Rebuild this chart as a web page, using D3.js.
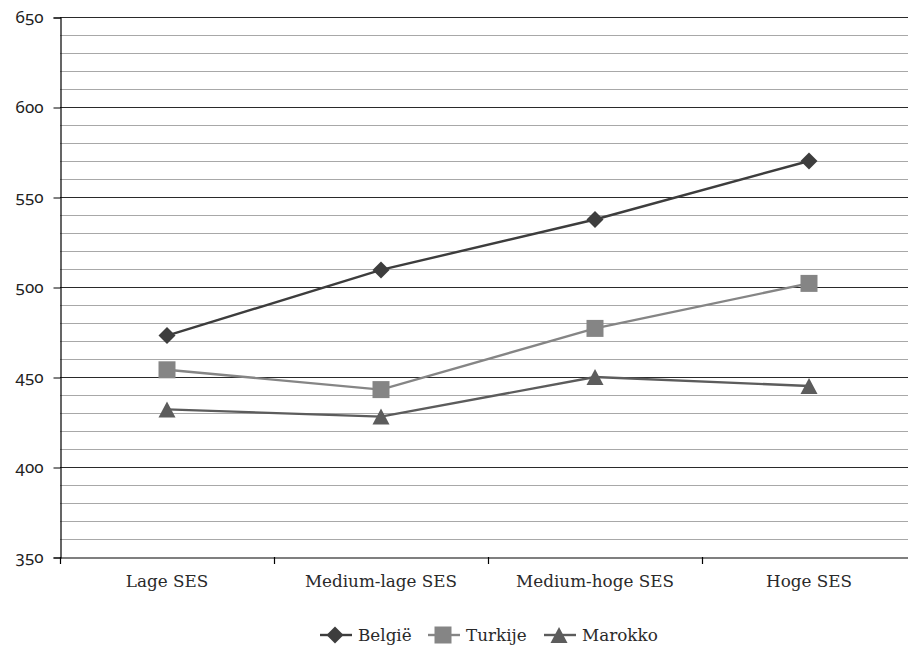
<!DOCTYPE html>
<html><head><meta charset="utf-8">
<script src="https://cdn.jsdelivr.net/npm/d3@7"></script>
<style>
html,body{margin:0;padding:0;background:#fff;}
svg{display:block;}
</style></head>
<body>
<svg id="chart" width="908" height="648"></svg>
<script>
const categories = ["Lage SES", "Medium-lage SES", "Medium-hoge SES", "Hoge SES"];
const belgie  = [473, 509.5, 537.5, 570];
const turkije = [454, 443, 477, 502];
const marokko = [432, 428, 450, 445];
const seriesNames = ["België", "Turkije", "Marokko"];
const yTicks = [350, 400, 450, 500, 550, 600, 650];

const series = [
  {name: seriesNames[0], values: belgie,  color: "#3d3d3d", shape: "diamond"},
  {name: seriesNames[1], values: turkije, color: "#858585", shape: "square"},
  {name: seriesNames[2], values: marokko, color: "#5c5c5c", shape: "triangle"}
];

const svg = d3.select("#chart");
const mLeft = 60, mTop = 17, mBottom = 557, mRight = 916;

const x = d3.scaleBand().domain(categories).range([mLeft, mRight]);
const y = d3.scaleLinear().domain([350, 650]).range([mBottom, mTop]);

// minor gridlines
const minor = d3.range(360, 650, 10).filter(v => v % 50 !== 0);
svg.append("g").selectAll("line").data(minor).join("line")
  .attr("x1", mLeft).attr("x2", 908)
  .attr("y1", d => y(d) + 0.5).attr("y2", d => y(d) + 0.5)
  .attr("stroke", "#a8a8a8").attr("stroke-width", 1.2);
// major gridlines
svg.append("g").selectAll("line").data(yTicks.filter(v => v > 350)).join("line")
  .attr("x1", mLeft).attr("x2", 908)
  .attr("y1", d => y(d) + 0.5).attr("y2", d => y(d) + 0.5)
  .attr("stroke", "#2a2a2a").attr("stroke-width", 1.2);

// y axis
const yAxis = svg.append("g").attr("transform", `translate(${mLeft + 0.5},0.5)`)
  .call(d3.axisLeft(y).tickValues(yTicks).tickSize(7).tickPadding(10).tickFormat(d3.format("d")));
yAxis.select(".domain").attr("stroke", "#000").attr("stroke-width", 1.2);
yAxis.selectAll(".tick line").attr("stroke", "#000");
yAxis.selectAll("text")
  .attr("font-family", "'Noto Sans', sans-serif")
  .style("font-variant-numeric", "oldstyle-nums")
  .attr("font-size", 17).attr("fill", "#222");

// x axis
const xAxis = svg.append("g").attr("transform", `translate(0,${mBottom + 0.5})`)
  .call(d3.axisBottom(x).tickSize(0).tickPadding(18));
xAxis.select(".domain").attr("stroke", "#000").attr("stroke-width", 1.2);
xAxis.selectAll("text")
  .attr("font-family", "'DejaVu Serif', serif")
  .attr("font-size", 16.8).attr("fill", "#2a2a2a");
// band boundary ticks
const bounds = categories.map(c => x(c));
svg.append("g").selectAll("line").data(bounds).join("line")
  .attr("x1", d => Math.round(d) + 0.5).attr("x2", d => Math.round(d) + 0.5)
  .attr("y1", mBottom).attr("y2", mBottom + 7)
  .attr("stroke", "#000").attr("stroke-width", 1.2);

const cx = c => x(c) + x.bandwidth() / 2;
const line = d3.line().x((d, i) => cx(categories[i])).y(d => y(d));

function marker(g, shape, color, px, py) {
  if (shape === "diamond") {
    g.append("path").attr("d", `M${px},${py-8.5}L${px+8.5},${py}L${px},${py+8.5}L${px-8.5},${py}Z`).attr("fill", color);
  } else if (shape === "square") {
    g.append("rect").attr("x", px - 8.5).attr("y", py - 8.5).attr("width", 17).attr("height", 17).attr("fill", color);
  } else {
    g.append("path").attr("d", `M${px},${py-8}L${px+8.5},${py+8}L${px-8.5},${py+8}Z`).attr("fill", color);
  }
}

series.forEach(s => {
  svg.append("path").datum(s.values).attr("d", line)
    .attr("fill", "none").attr("stroke", s.color).attr("stroke-width", 2.4);
  const g = svg.append("g");
  s.values.forEach((v, i) => marker(g, s.shape, s.color, cx(categories[i]), y(v)));
});

// legend
const legendX = [320, 428, 544];
const legendY = 635;
series.forEach((s, i) => {
  const g = svg.append("g");
  const lx = legendX[i];
  g.append("line").attr("x1", lx).attr("x2", lx + 32).attr("y1", legendY).attr("y2", legendY)
    .attr("stroke", s.color).attr("stroke-width", 2.4);
  marker(g, s.shape, s.color, lx + 15, legendY);
  g.append("text").attr("x", lx + 38).attr("y", legendY + 6)
    .attr("font-family", "'DejaVu Serif', serif").attr("font-size", 16.8).attr("fill", "#2a2a2a")
    .text(s.name);
});
</script>
</body></html>
